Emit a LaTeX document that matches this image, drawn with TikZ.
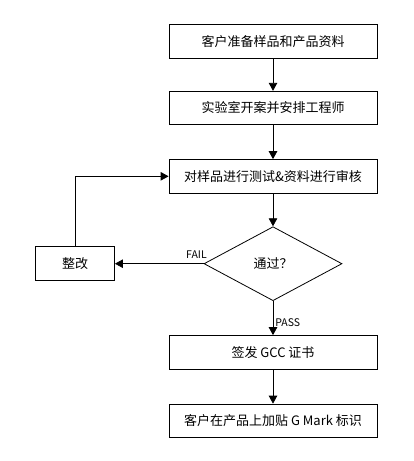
\documentclass[tikz,border=0pt]{standalone}
\usepackage{fontspec}
\setmainfont{Noto Sans CJK SC}
\usetikzlibrary{arrows.meta,positioning,shapes.geometric}

\begin{document}
\begin{tikzpicture}[x=1pt,y=-1pt,->,>={Triangle[length=8pt,width=8.5pt]},%
    on grid,line width=0.8pt,font=\fontsize{13pt}{15pt}\selectfont,
    stepbox/.style={draw,rectangle,minimum width=208pt,minimum height=33.5pt,inner sep=0pt},
    fixbox/.style={draw,rectangle,minimum width=79pt,minimum height=34pt,inner sep=0pt},
    check/.style={draw,diamond,aspect=1.86,minimum width=138pt,minimum height=74pt,inner sep=0pt}]
    \useasboundingbox (0,0) rectangle (413,461);
    \node[stepbox]  (prep)  at (273,41.3)           {客户准备样品和产品资料};
    \node[stepbox]  (open)  [below=66.7pt of prep]  {实验室开案并安排工程师};
    \node[stepbox]  (test)  [below=68.3pt of open]  {对样品进行测试\&资料进行审核};
    \node[check]    (pass)  [below=87.4pt of test]  {通过？};
    \node[fixbox]   (fix)   [left=198pt of pass]    {整改};
    \node[stepbox]  (gcc)   [below=88.6pt of pass]  {签发 GCC 证书};
    \node[stepbox]  (mark)  [below=68.5pt of gcc]   {客户在产品上加贴 G Mark 标识};

    \path [every node/.style={font=\fontsize{10.5pt}{12pt}\selectfont,inner sep=2pt}]
        (prep) edge                         (open)
        (open) edge                         (test)
        (test) edge                         (pass)
        (pass) edge node[pos=0.08,above=3pt] {FAIL} (fix)
               edge node[pos=0.64,right]   {PASS} (gcc)
        (gcc)  edge                         (mark);
    \draw (fix.north) |- (test.west);
\end{tikzpicture}
\end{document}
